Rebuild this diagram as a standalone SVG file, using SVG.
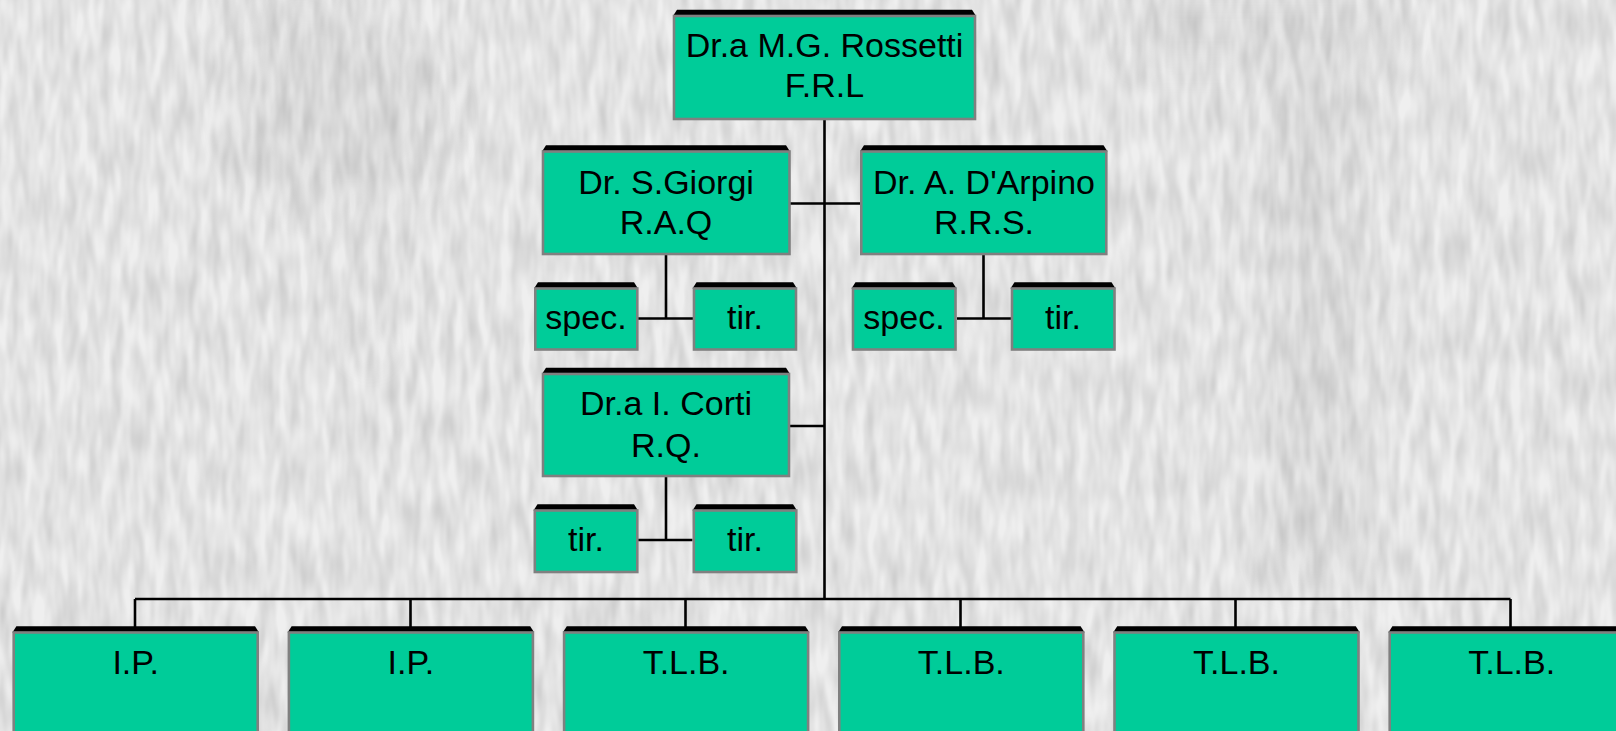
<svg xmlns="http://www.w3.org/2000/svg" width="1616" height="731" viewBox="0 0 1616 731">
  <defs>
    <style>
      .box { fill: #00cc99; stroke: #808080; stroke-width: 2.6; }
      .lid { fill: #000000; }
      .lbl { font-family: "Liberation Sans", Arial, sans-serif; font-size: 34px; fill: #000000; text-anchor: middle; }
      .wire { fill: none; stroke: #000000; stroke-width: 2.6; stroke-linecap: butt; }
    </style>
    <!-- paper-like grain for the backdrop: soft speckle with a vertical grain -->
    <filter id="grain" x="0" y="0" width="100%" height="100%" color-interpolation-filters="sRGB">
      <feTurbulence type="fractalNoise" baseFrequency="0.09 0.022" numOctaves="2" seed="7" result="n"/>
      <feColorMatrix in="n" type="matrix" values="0.8 0 0 0 0.42  0.8 0 0 0 0.42  0.8 0 0 0 0.42  0 0 0 0 0.26"/>
    </filter>
    <filter id="soft" x="-50%" y="-50%" width="200%" height="200%">
      <feGaussianBlur stdDeviation="18"/>
    </filter>
  </defs>

  <!-- backdrop -->
  <g id="backdrop">
    <rect x="0" y="0" width="1616" height="731" fill="#e9e9e9"/>
    <g filter="url(#soft)" fill="#bdbdbd" opacity="0.3">
      <ellipse cx="340" cy="120" rx="110" ry="90"/>
      <ellipse cx="300" cy="20" rx="80" ry="25"/>
      <rect x="1130" y="0" width="270" height="60"/>
      <rect x="1270" y="60" width="90" height="520"/>
      <rect x="360" y="160" width="20" height="200"/>
    </g>
    <rect x="0" y="0" width="1616" height="731" filter="url(#grain)"/>
  </g>

  <!-- connectors -->
  <g id="connectors" class="wire">
    <!-- trunk from the head box down to the bottom bus -->
    <line x1="824.5" y1="120" x2="824.5" y2="600"/>
    <!-- second-row branches -->
    <line x1="790" y1="203.5" x2="860" y2="203.5"/>
    <line x1="790" y1="426" x2="824.5" y2="426"/>
    <!-- Giorgi sub-units -->
    <line x1="666" y1="255" x2="666" y2="318.5"/>
    <line x1="638" y1="318.5" x2="693" y2="318.5"/>
    <!-- D'Arpino sub-units -->
    <line x1="983.5" y1="255" x2="983.5" y2="318.5"/>
    <line x1="957" y1="318.5" x2="1011" y2="318.5"/>
    <!-- Corti sub-units -->
    <line x1="666" y1="477" x2="666" y2="540"/>
    <line x1="638" y1="540" x2="692.5" y2="540"/>
    <!-- bottom bus and drops -->
    <line x1="135" y1="599" x2="1510.5" y2="599"/>
    <line x1="135" y1="599" x2="135" y2="627"/>
    <line x1="410.5" y1="599" x2="410.5" y2="627"/>
    <line x1="685.5" y1="599" x2="685.5" y2="627"/>
    <line x1="960.5" y1="599" x2="960.5" y2="627"/>
    <line x1="1235.5" y1="599" x2="1235.5" y2="627"/>
    <line x1="1510.5" y1="599" x2="1510.5" y2="627"/>
  </g>

  <!-- head -->
  <g id="node-rossetti">
    <polygon class="lid" points="673,16 677,9.7 972,9.7 976,16"/>
    <rect class="box" x="674" y="16" width="301" height="103"/>
    <text class="lbl" x="824.5" y="57">Dr.a M.G. Rossetti</text>
    <text class="lbl" x="824.5" y="97">F.R.L</text>
  </g>

  <g id="node-giorgi">
    <polygon class="lid" points="542,151.5 546,145.2 786,145.2 790,151.5"/>
    <rect class="box" x="543" y="151.5" width="246.5" height="102.5"/>
    <text class="lbl" x="666" y="193.5">Dr. S.Giorgi</text>
    <text class="lbl" x="666" y="233.5">R.A.Q</text>
  </g>

  <g id="node-giorgi-spec">
    <polygon class="lid" points="534,288.5 538,282.2 634,282.2 638,288.5"/>
    <rect class="box" x="535.3" y="288.5" width="102" height="61"/>
    <text class="lbl" x="586" y="329">spec.</text>
  </g>

  <g id="node-giorgi-tir">
    <polygon class="lid" points="692.5,288.5 696.5,282.2 793,282.2 797,288.5"/>
    <rect class="box" x="694" y="288.5" width="102" height="61"/>
    <text class="lbl" x="745" y="329">tir.</text>
  </g>

  <g id="node-darpino">
    <polygon class="lid" points="860,151.5 864,145.2 1103.5,145.2 1107.5,151.5"/>
    <rect class="box" x="861.3" y="151.5" width="245" height="102.5"/>
    <text class="lbl" x="984" y="193.5">Dr. A. D'Arpino</text>
    <text class="lbl" x="984" y="233.5">R.R.S.</text>
  </g>

  <g id="node-darpino-spec">
    <polygon class="lid" points="851.5,288.5 855.5,282.2 952.5,282.2 956.5,288.5"/>
    <rect class="box" x="853" y="288.5" width="102.5" height="61"/>
    <text class="lbl" x="904" y="329">spec.</text>
  </g>

  <g id="node-darpino-tir">
    <polygon class="lid" points="1010.5,288.5 1014.5,282.2 1111.5,282.2 1115.5,288.5"/>
    <rect class="box" x="1012" y="288.5" width="102.5" height="61"/>
    <text class="lbl" x="1063" y="329">tir.</text>
  </g>

  <g id="node-corti">
    <polygon class="lid" points="542,374 546,367.7 786,367.7 790,374"/>
    <rect class="box" x="543" y="374" width="246" height="102"/>
    <text class="lbl" x="666" y="415">Dr.a I. Corti</text>
    <text class="lbl" x="666" y="456.5">R.Q.</text>
  </g>

  <g id="node-corti-tir-1">
    <polygon class="lid" points="533.5,510.5 537.5,504.2 634,504.2 638,510.5"/>
    <rect class="box" x="534.8" y="510.5" width="102.5" height="61.5"/>
    <text class="lbl" x="586" y="550.5">tir.</text>
  </g>

  <g id="node-corti-tir-2">
    <polygon class="lid" points="692.5,510.5 696.5,504.2 793,504.2 797,510.5"/>
    <rect class="box" x="693.8" y="510.5" width="102.5" height="61.5"/>
    <text class="lbl" x="745" y="550.5">tir.</text>
  </g>

  <!-- bottom row -->
  <g id="node-ip-1">
    <polygon class="lid" points="12.4,632.5 16.4,626.2 255,626.2 259,632.5"/>
    <rect class="box" x="13.7" y="632.5" width="244" height="110"/>
    <text class="lbl" x="135.7" y="673.5">I.P.</text>
  </g>

  <g id="node-ip-2">
    <polygon class="lid" points="287.6,632.5 291.6,626.2 530.2,626.2 534.2,632.5"/>
    <rect class="box" x="288.9" y="632.5" width="244" height="110"/>
    <text class="lbl" x="410.9" y="673.5">I.P.</text>
  </g>

  <g id="node-tlb-1">
    <polygon class="lid" points="562.8,632.5 566.8,626.2 805.4,626.2 809.4,632.5"/>
    <rect class="box" x="564.1" y="632.5" width="244" height="110"/>
    <text class="lbl" x="686.1" y="673.5">T.L.B.</text>
  </g>

  <g id="node-tlb-2">
    <polygon class="lid" points="838,632.5 842,626.2 1080.6,626.2 1084.6,632.5"/>
    <rect class="box" x="839.3" y="632.5" width="244" height="110"/>
    <text class="lbl" x="961.3" y="673.5">T.L.B.</text>
  </g>

  <g id="node-tlb-3">
    <polygon class="lid" points="1113.2,632.5 1117.2,626.2 1355.8,626.2 1359.8,632.5"/>
    <rect class="box" x="1114.5" y="632.5" width="244" height="110"/>
    <text class="lbl" x="1236.5" y="673.5">T.L.B.</text>
  </g>

  <g id="node-tlb-4">
    <polygon class="lid" points="1388.4,632.5 1392.4,626.2 1631,626.2 1635,632.5"/>
    <rect class="box" x="1389.7" y="632.5" width="244" height="110"/>
    <text class="lbl" x="1511.7" y="673.5">T.L.B.</text>
  </g>
</svg>
